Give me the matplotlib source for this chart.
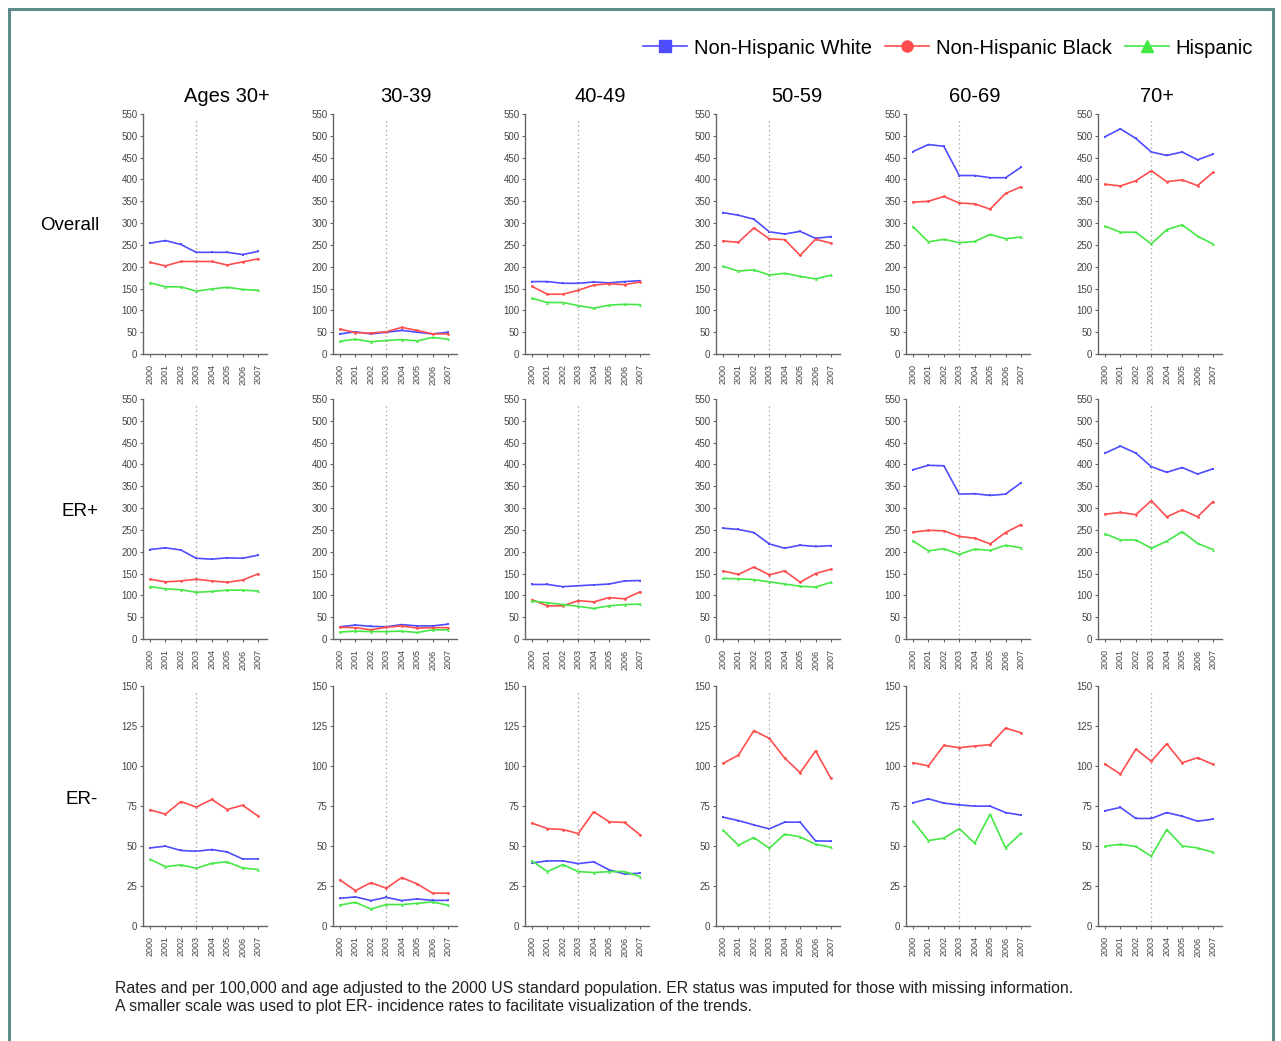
import matplotlib.pyplot as plt
from matplotlib.patches import Rectangle
from matplotlib.lines import Line2D

plt.rcParams['font.family'] = ['Liberation Sans', 'DejaVu Sans']

years = [2000, 2001, 2002, 2003, 2004, 2005, 2006, 2007]
age_groups = ['Ages 30+', '30-39', '40-49', '50-59', '60-69', '70+']
row_names = ['Overall', 'ER+', 'ER-']
races = ['Non-Hispanic White', 'Non-Hispanic Black', 'Hispanic']

# rates per 100,000, one list per age group
overall_white = [
    [254, 260, 251, 233, 233, 233, 228, 235],
    [46, 51, 46, 50, 54, 50, 46, 50],
    [166, 166, 162, 162, 165, 163, 166, 168],
    [324, 318, 309, 280, 275, 281, 265, 269],
    [464, 480, 476, 409, 409, 404, 404, 428],
    [498, 516, 494, 463, 455, 463, 445, 458],
]
overall_black = [
    [210, 202, 212, 212, 212, 204, 211, 218],
    [57, 49, 48, 51, 61, 54, 46, 46],
    [155, 137, 137, 146, 158, 161, 159, 165],
    [259, 256, 289, 264, 262, 226, 263, 254],
    [348, 350, 361, 346, 344, 332, 368, 383],
    [389, 385, 397, 420, 395, 399, 386, 416],
]
overall_hisp = [
    [163, 154, 154, 144, 149, 153, 148, 146],
    [29, 34, 28, 31, 33, 30, 38, 34],
    [128, 118, 118, 111, 105, 112, 114, 113],
    [201, 190, 193, 181, 185, 178, 172, 181],
    [292, 257, 263, 255, 258, 274, 264, 268],
    [293, 279, 279, 252, 285, 296, 270, 252],
]

erpos_white = [
    [205, 209, 204, 185, 183, 186, 185, 192],
    [28, 32, 29, 28, 33, 30, 30, 34],
    [125, 125, 120, 122, 124, 126, 133, 134],
    [254, 251, 244, 218, 208, 215, 212, 214],
    [388, 398, 397, 332, 333, 329, 332, 358],
    [426, 442, 426, 395, 382, 393, 378, 390],
]
erpos_black = [
    [137, 131, 133, 137, 133, 130, 135, 149],
    [27, 26, 21, 27, 30, 25, 26, 26],
    [90, 76, 76, 88, 85, 95, 92, 108],
    [156, 148, 165, 147, 156, 130, 150, 160],
    [245, 249, 248, 235, 231, 218, 244, 262],
    [286, 290, 285, 317, 280, 296, 280, 315],
]
erpos_hisp = [
    [120, 115, 113, 107, 109, 112, 112, 110],
    [16, 18, 17, 17, 18, 15, 21, 21],
    [87, 83, 79, 75, 70, 76, 79, 80],
    [139, 138, 136, 131, 126, 121, 119, 130],
    [225, 202, 207, 194, 206, 203, 215, 209],
    [241, 227, 227, 208, 224, 246, 219, 205],
]

erneg_white = [
    [48.8, 49.9, 47.2, 46.7, 47.8, 46.3, 41.9, 41.9],
    [17.3, 18.2, 15.9, 17.9, 15.9, 16.9, 16.0, 16.0],
    [39.4, 40.7, 40.7, 39.0, 40.1, 35.1, 32.5, 33.0],
    [68.0, 65.9, 63.2, 60.7, 64.9, 64.9, 53.2, 53.0],
    [77.0, 79.5, 76.8, 75.7, 74.9, 74.9, 70.9, 69.3],
    [72.0, 74.1, 67.2, 67.2, 70.9, 68.6, 65.5, 66.8],
]
erneg_black = [
    [72.6, 69.9, 77.8, 74.3, 79.1, 72.8, 75.5, 68.8],
    [28.8, 22.1, 27.1, 23.6, 30.3, 26.3, 20.5, 20.5],
    [64.3, 60.9, 60.3, 57.8, 71.4, 65.1, 64.7, 57.0],
    [101.6, 106.8, 122.1, 117.3, 104.9, 95.8, 109.5, 92.2],
    [102.0, 100.1, 112.9, 111.4, 112.5, 113.3, 123.7, 120.8],
    [101.2, 94.9, 110.6, 102.9, 113.9, 102.0, 105.2, 101.0],
]
erneg_hisp = [
    [41.7, 37.1, 38.2, 36.1, 39.2, 40.1, 36.3, 35.3],
    [13.1, 14.8, 10.6, 13.4, 13.4, 14.2, 15.0, 13.0],
    [40.7, 34.0, 38.4, 34.0, 33.4, 34.0, 34.0, 30.9],
    [59.9, 50.5, 55.3, 48.6, 57.4, 55.7, 51.1, 49.2],
    [65.5, 53.4, 54.9, 60.9, 51.7, 69.9, 48.8, 58.0],
    [49.9, 51.1, 49.7, 43.6, 60.3, 50.1, 48.8, 46.1],
]

rows = [
    (overall_white, overall_black, overall_hisp),
    (erpos_white, erpos_black, erpos_hisp),
    (erneg_white, erneg_black, erneg_hisp),
]
row_ymax = [550, 550, 150]
row_step = [50, 50, 25]

# styles
colors = ['#4d4dff', '#ff4d4d', '#44e844']
markers = ['s', 'o', '^']
axis_gray = '#666666'

W, H = 1281, 1041
fig = plt.figure(figsize=(W / 100, H / 100), dpi=100)

# panel geometry in pixels
col_left = [143, 333, 525, 716, 906, 1098]
row_top = [114, 399, 686]
ax_w, ax_h = 124, 240
px_per_year = 108 / 7.0

for r, (wh, bl, hi) in enumerate(rows):
    for c in range(6):
        ax = fig.add_axes([col_left[c] / W, 1 - (row_top[r] + ax_h) / H, ax_w / W, ax_h / H])
        for k, series in enumerate([wh[c], bl[c], hi[c]]):
            ax.plot(years, series, color=colors[k], marker=markers[k], markersize=2,
                    linewidth=1.2, markeredgewidth=0)
        ax.axvline(2003, ymin=0, ymax=0.985, color='#999999', linestyle=(0, (1, 2.5)), linewidth=0.9)
        ax.set_xlim(2000 - 7 / px_per_year, 2007 + 9 / px_per_year)
        ax.set_ylim(0, row_ymax[r])
        ax.set_yticks(range(0, row_ymax[r] + 1, row_step[r]))
        ax.set_xticks(years)
        ax.set_xticklabels([str(y) for y in years], rotation=90)
        for s in ['top', 'right']:
            ax.spines[s].set_visible(False)
        for s in ['left', 'bottom']:
            ax.spines[s].set_color(axis_gray)
            ax.spines[s].set_linewidth(1.0)
        ax.tick_params(axis='y', length=2.5, width=0.8, color=axis_gray, pad=1.5,
                       labelsize=7, labelcolor='#444444')
        ax.tick_params(axis='x', length=2.5, width=0.8, color=axis_gray, pad=5,
                       labelsize=6.5, labelcolor='#444444')
        ax.patch.set_alpha(0)

# column titles
title_x = [227, 406, 600, 797, 975, 1157]
for c in range(6):
    fig.text(title_x[c] / W, 1 - 96 / H, age_groups[c], ha='center', va='center', fontsize=14.5)

# row labels
label_pos = [(70, 226), (80, 512), (82, 800)]
for r in range(3):
    fig.text(label_pos[r][0] / W, 1 - label_pos[r][1] / H, row_names[r], ha='center', va='center',
             fontsize=13.5)

# legend
handles = [Line2D([0], [0], color=colors[k], marker=markers[k], markersize=8, linewidth=1.2)
           for k in range(3)]
fig.legend(handles, races, loc='center right', bbox_to_anchor=(1253 / W, 1 - 48 / H),
           ncol=3, frameon=False, fontsize=14.5, handlelength=2.2, handletextpad=0.33,
           columnspacing=0.65, borderpad=0, borderaxespad=0)

# footnote
fig.text(115 / W, 1 - 988 / H,
         'Rates and per 100,000 and age adjusted to the 2000 US standard population. '
         'ER status was imputed for those with missing information.',
         ha='left', va='center', fontsize=11.4, color='#222222')
fig.text(115 / W, 1 - 1007 / H,
         'A smaller scale was used to plot ER- incidence rates to facilitate visualization of the trends.',
         ha='left', va='center', fontsize=11.4, color='#222222')

# outer frame
fig.patches.append(Rectangle((9 / W, -0.01), (1273 - 9) / W, 1 - 9 / H + 0.01,
                             transform=fig.transFigure, fill=False,
                             edgecolor='#5e8a8b', linewidth=2.2))

fig.savefig('out.png', dpi=100)
